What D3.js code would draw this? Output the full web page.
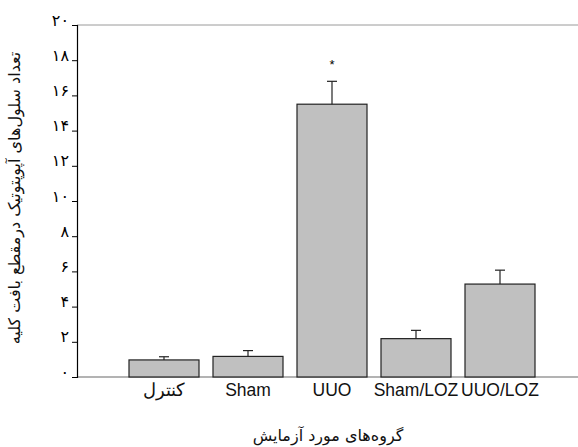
<!DOCTYPE html>
<html>
<head>
<meta charset="utf-8">
<script src="https://cdn.jsdelivr.net/npm/d3@7"></script>
<style>
  body { margin: 0; background: #fff; }
</style>
</head>
<body>
<div id="chart"></div>
<script>
// Data
const groups = ["کنترل", "Sham", "UUO", "Sham/LOZ", "UUO/LOZ"];
const means = [0.97, 1.17, 15.5, 2.18, 5.28];
const errors = [0.18, 0.33, 1.3, 0.47, 0.79];
const marks = ["", "", "*", "", ""];
const yTicks = [0, 2, 4, 6, 8, 10, 12, 14, 16, 18, 20];
const yTickLabels = ["۰", "۲", "۴", "۶", "۸", "۱۰", "۱۲", "۱۴", "۱۶", "۱۸", "۲۰"];

const W = 578, H = 447;
const svg = d3.select("#chart").append("svg")
    .attr("width", W)
    .attr("height", H);

const x = d3.scaleBand()
    .domain(groups)
    .range([122, 542])
    .paddingInner(14 / 84)
    .paddingOuter(14 / 168);

const y = d3.scaleLinear()
    .domain([0, 20])
    .range([377, 25]);

// frame lines (top and bottom gray)
svg.append("line")
    .attr("x1", 77).attr("x2", W)
    .attr("y1", y(20)).attr("y2", y(20))
    .attr("stroke", "#9a9a9a").attr("stroke-width", 1);
svg.append("line")
    .attr("x1", 77).attr("x2", W)
    .attr("y1", y(0)).attr("y2", y(0))
    .attr("stroke", "#9a9a9a").attr("stroke-width", 1.5);

// bars
svg.selectAll(".bar")
    .data(groups)
    .enter()
    .append("rect")
    .attr("class", "bar")
    .attr("x", d => x(d))
    .attr("y", (d, i) => y(means[i]))
    .attr("width", x.bandwidth())
    .attr("height", (d, i) => y(0) - y(means[i]))
    .attr("fill", "#c0c0c0")
    .attr("stroke", "#222")
    .attr("stroke-width", 1.2);

// error bars
const err = svg.append("g").attr("stroke", "#222").attr("stroke-width", 1.2);
groups.forEach((g, i) => {
    const cx = x(g) + x.bandwidth() / 2;
    err.append("line")
        .attr("x1", cx).attr("x2", cx)
        .attr("y1", y(means[i])).attr("y2", y(means[i] + errors[i]));
    err.append("line")
        .attr("x1", cx - 5).attr("x2", cx + 5)
        .attr("y1", y(means[i] + errors[i])).attr("y2", y(means[i] + errors[i]));
    if (marks[i]) {
        svg.append("text")
            .attr("x", cx)
            .attr("y", y(means[i] + errors[i]) - 12)
            .attr("text-anchor", "middle")
            .attr("font-family", "Liberation Sans, Arial, sans-serif")
            .attr("font-size", 13)
            .text(marks[i]);
    }
});

// y axis
const yAxis = d3.axisLeft(y)
    .tickValues(yTicks)
    .tickSize(5)
    .tickFormat((d, i) => yTickLabels[i]);
const ya = svg.append("g")
    .attr("transform", "translate(77,0)")
    .call(yAxis);
ya.select(".domain").attr("stroke", "#000").attr("stroke-width", 1.2);
ya.selectAll(".tick line").attr("stroke", "#000");
ya.selectAll(".tick text")
    .attr("x", -8)
    .attr("dy", "0")
    .attr("font-family", "DejaVu Sans, sans-serif")
    .attr("font-size", 16)
    .attr("font-weight", "normal")
    .attr("fill", "#000");

// x labels
svg.selectAll(".xlabel")
    .data(groups)
    .enter()
    .append("text")
    .attr("class", "xlabel")
    .attr("x", d => x(d) + x.bandwidth() / 2)
    .attr("y", 396)
    .attr("text-anchor", "middle")
    .attr("font-family", "Liberation Sans, Arial, sans-serif")
    .attr("font-size", 17.5)
    .attr("fill", "#111")
    .text(d => d);

// axis titles
svg.append("text")
    .attr("x", 328)
    .attr("y", 441)
    .attr("text-anchor", "middle")
    .attr("font-family", "DejaVu Sans, sans-serif")
    .attr("font-size", 16)
    .attr("fill", "#111")
    .text("گروه‌های مورد آزمایش");

svg.append("text")
    .attr("transform", "translate(20,198) rotate(-90)")
    .attr("text-anchor", "middle")
    .attr("font-family", "DejaVu Sans, sans-serif")
    .attr("font-size", 16)
    .attr("fill", "#111")
    .text("تعداد سلول‌های آپوپتوتیک درمقطع بافت کلیه");
</script>
</body>
</html>
